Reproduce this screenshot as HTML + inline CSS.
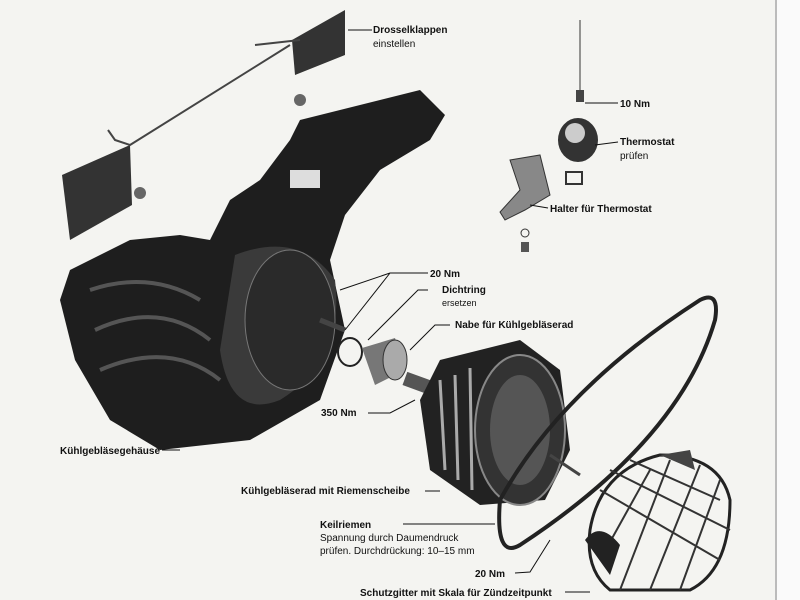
<!DOCTYPE html>
<html><head><style>
body{margin:0;background:#f4f4f1;}
svg{display:block}
text{font-family:"Liberation Sans",sans-serif;font-size:10px;fill:#111;font-weight:bold}
.n{font-weight:normal}
</style></head><body>
<svg width="800" height="600" viewBox="0 0 800 600">
<rect width="800" height="600" fill="#f4f4f1"/>
<line x1="776" y1="0" x2="776" y2="600" stroke="#bbb" stroke-width="2"/>
<rect x="777" y="0" width="23" height="600" fill="#fafafa"/>
<!-- flaps -->
<path d="M292 40 L345 10 L345 55 L295 75Z" fill="#333"/>
<path d="M62 175 L130 145 L132 205 L70 240Z" fill="#333"/>
<path d="M255 45 L300 40 M290 45 L130 145 L115 140 L108 130" stroke="#444" stroke-width="2" fill="none"/>
<circle cx="300" cy="100" r="6" fill="#666"/>
<circle cx="140" cy="193" r="6" fill="#666"/>
<!-- housing -->
<path d="M300 120 L420 90 L445 115 L430 140 L380 170 L345 215 L330 260 L345 330 L320 400 L250 440 L160 450 L110 420 L75 360 L60 300 L70 270 L130 240 L180 235 L210 240 L230 200 L260 180 L290 140Z" fill="#1e1e1e"/>
<path d="M235 255 Q300 230 335 280 Q345 360 280 400 Q230 420 220 350Z" fill="#3a3a3a"/>
<ellipse cx="290" cy="320" rx="45" ry="70" fill="#2a2a2a" stroke="#777"/>
<path d="M90 290 Q150 270 200 300 M95 330 Q160 300 210 340 M100 370 Q170 340 220 380" stroke="#555" stroke-width="4" fill="none"/>
<rect x="290" y="170" width="30" height="18" fill="#ddd"/>
<!-- hub parts -->
<ellipse cx="350" cy="352" rx="12" ry="14" fill="none" stroke="#222" stroke-width="2"/>
<path d="M362 348 L395 338 L405 370 L375 385Z" fill="#777"/>
<ellipse cx="395" cy="360" rx="12" ry="20" fill="#aaa" stroke="#333"/>
<rect x="405" y="375" width="25" height="14" fill="#555" transform="rotate(20 415 380)"/>
<line x1="320" y1="320" x2="345" y2="330" stroke="#444" stroke-width="5"/>
<!-- fan wheel -->
<path d="M440 360 L520 340 L560 370 L570 450 L545 500 L480 505 L430 470 L420 400Z" fill="#222"/>
<ellipse cx="520" cy="430" rx="45" ry="75" fill="#333" stroke="#888" stroke-width="2"/>
<ellipse cx="520" cy="430" rx="30" ry="55" fill="#555"/>
<path d="M440 380 L445 470 M455 375 L458 480 M470 368 L472 490" stroke="#aaa" stroke-width="3"/>
<line x1="550" y1="455" x2="580" y2="475" stroke="#444" stroke-width="3"/>
<!-- belt -->
<path d="M500 500 Q560 390 700 300 Q720 290 715 320 Q680 440 520 545 Q495 560 500 500Z" fill="none" stroke="#222" stroke-width="4"/>
<!-- cage -->
<path d="M590 530 Q600 470 660 455 Q720 455 730 500 Q730 570 690 590 L610 590 Q585 570 590 530Z" fill="#f4f4f1" stroke="#222" stroke-width="3"/>
<path d="M600 490 L720 560 M610 470 L730 530 M630 460 L720 500 M620 590 L670 460 M650 590 L700 465 M680 590 L720 480 M600 560 L650 470" stroke="#333" stroke-width="2"/>
<path d="M585 540 Q600 520 620 545 L610 575Z" fill="#222"/>
<path d="M660 455 L690 450 L695 470Z" fill="#444"/>
<!-- thermostat -->
<line x1="580" y1="20" x2="580" y2="95" stroke="#333"/>
<rect x="576" y="90" width="8" height="12" fill="#444"/>
<ellipse cx="578" cy="140" rx="20" ry="22" fill="#333"/>
<ellipse cx="575" cy="133" rx="10" ry="10" fill="#ccc"/>
<path d="M510 160 L540 155 L550 195 L525 210 L505 220 L500 212 L520 190Z" fill="#888" stroke="#333"/>
<rect x="566" y="172" width="16" height="12" fill="none" stroke="#333" stroke-width="2"/>
<circle cx="525" cy="233" r="4" fill="none" stroke="#333"/>
<rect x="521" y="242" width="8" height="10" fill="#555"/>
<!-- leaders -->
<g stroke="#111" fill="none" stroke-width="1">
<path d="M348 30 L372 30"/>
<path d="M585 103 L618 103"/>
<path d="M595 145 L618 142"/>
<path d="M530 205 L548 208"/>
<path d="M340 290 L390 273 L428 273 M345 330 L390 273"/>
<path d="M368 340 L418 290 L428 290"/>
<path d="M410 350 L435 325 L450 325"/>
<path d="M368 413 L390 413 L415 400"/>
<path d="M162 450 L180 450"/>
<path d="M425 491 L440 491"/>
<path d="M403 524 L495 524"/>
<path d="M515 573 L530 572 L550 540"/>
<path d="M565 592 L590 592"/>
</g>
<!-- labels -->
<text x="373" y="33">Drosselklappen</text>
<text x="373" y="47" class="n">einstellen</text>
<text x="620" y="107">10 Nm</text>
<text x="620" y="145">Thermostat</text>
<text x="620" y="159" class="n">prüfen</text>
<text x="550" y="212">Halter für Thermostat</text>
<text x="430" y="277">20 Nm</text>
<text x="442" y="293">Dichtring</text>
<text x="442" y="306" class="n" style="font-size:9px">ersetzen</text>
<text x="455" y="328">Nabe für Kühlgebläserad</text>
<text x="321" y="416">350 Nm</text>
<text x="60" y="454">Kühlgebläsegehäuse</text>
<text x="241" y="494">Kühlgebläserad mit Riemenscheibe</text>
<text x="320" y="528">Keilriemen</text>
<text x="320" y="541" class="n">Spannung durch Daumendruck</text>
<text x="320" y="554" class="n">prüfen. Durchdrückung: 10–15 mm</text>
<text x="475" y="577">20 Nm</text>
<text x="360" y="596">Schutzgitter mit Skala für Zündzeitpunkt</text>
</svg>
</body></html>
